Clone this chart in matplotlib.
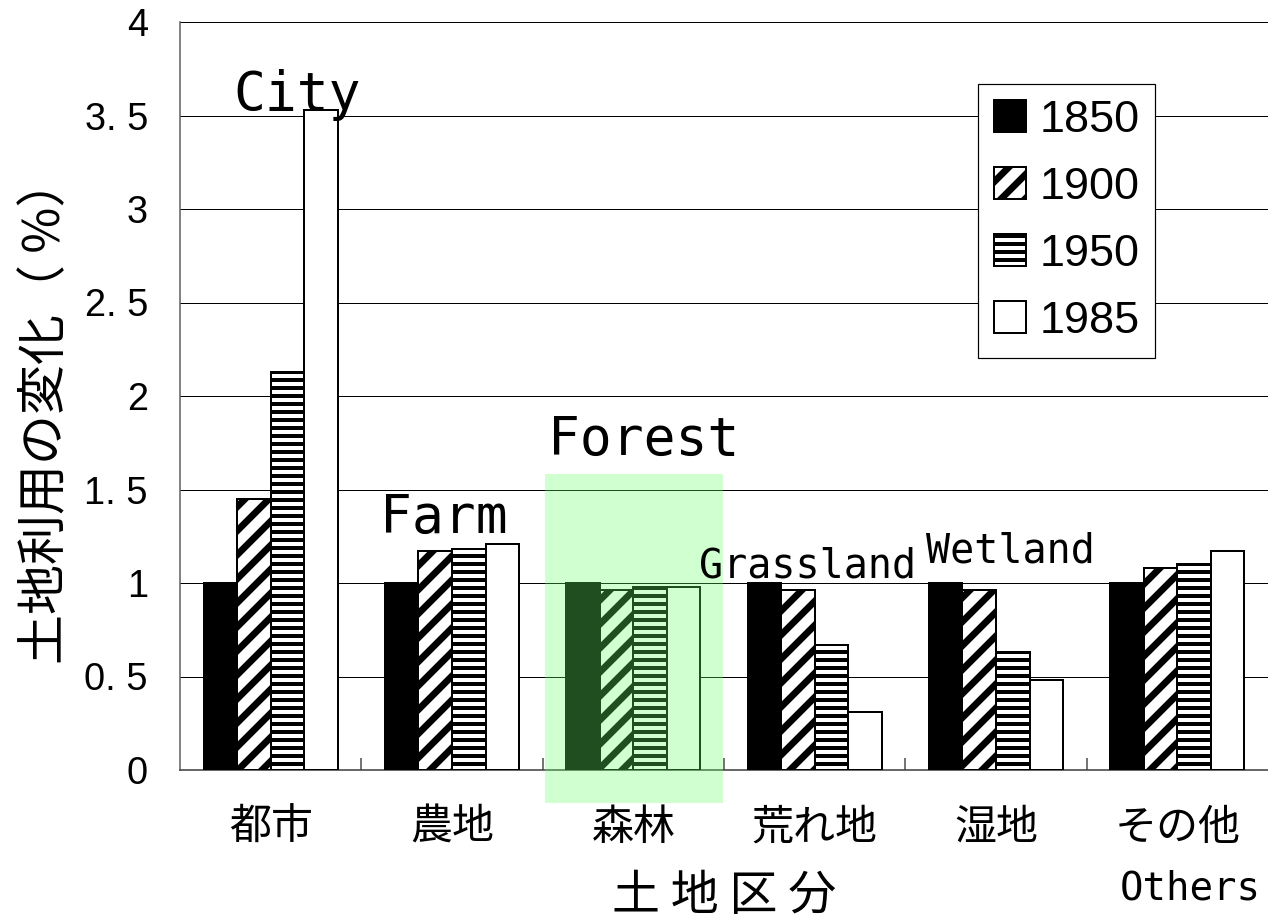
import matplotlib.pyplot as plt
import matplotlib.patches as mpatches
import numpy as np

plt.rcParams['font.family'] = ['Liberation Sans', 'Noto Sans CJK JP', 'DejaVu Sans']
plt.rcParams['hatch.linewidth'] = 2.2

# data
categories = ['都市', '農地', '森林', '荒れ地', '湿地', 'その他']
en_names = ['City', 'Farm', 'Forest', 'Grassland', 'Wetland', 'Others']
years = ['1850', '1900', '1950', '1985']
v1850 = [1.0, 1.0, 1.0, 1.0, 1.0, 1.0]
v1900 = [1.45, 1.17, 0.96, 0.96, 0.96, 1.08]
v1950 = [2.13, 1.18, 0.98, 0.67, 0.63, 1.10]
v1985 = [3.53, 1.21, 0.98, 0.31, 0.48, 1.17]
yticks = [0, 0.5, 1, 1.5, 2, 2.5, 3, 3.5, 4]
ytick_labels = ['0', '0. 5', '1', '1. 5', '2', '2. 5', '3', '3. 5', '4']

W, H, DPI = 1268, 920, 144
fig = plt.figure(figsize=(W / DPI, H / DPI), dpi=DPI)
ax = fig.add_axes([180 / W, 150 / H, 1088 / W, 748 / H])

x = np.arange(len(categories))
w = 0.185
styles = [('black', '', 2.2), ('white', '//', 3.4), ('white', '---', 2.0), ('white', '', 2.2)]
for i, (vals, (fc, hatch, hlw)) in enumerate(zip([v1850, v1900, v1950, v1985], styles)):
    bars = ax.bar(x + (i - 1.5) * w, vals, w, color=fc, edgecolor='black', hatch=hatch,
                  linewidth=1, label=years[i], zorder=3)
    for p in bars:
        if hasattr(p, 'set_hatch_linewidth'):
            p.set_hatch_linewidth(hlw)

ax.set_xlim(-0.5, 5.5)
ax.set_ylim(0, 4)
ax.set_yticks(yticks, ytick_labels)
ax.tick_params(axis='y', length=0, pad=16, labelsize=19)
ax.set_xticks(x, categories)
ax.tick_params(axis='x', which='major', length=0, pad=18, labelsize=21)
for lbl in ax.get_xticklabels():
    lbl.set_fontfamily(['Noto Sans CJK JP', 'DejaVu Sans'])
ax.set_xticks(np.arange(0.5, 5.5, 1), minor=True)
ax.tick_params(axis='x', which='minor', direction='in', length=6, width=0.8, color='#555555')

ax.yaxis.grid(True, color='black', lw=0.5)
ax.set_axisbelow(True)
for s in ['top', 'right']:
    ax.spines[s].set_visible(False)
ax.spines['left'].set_color('#666666')
ax.spines['left'].set_linewidth(0.8)
ax.spines['bottom'].set_color('#444444')
ax.spines['bottom'].set_linewidth(0.8)

# green highlight over the forest group
rect = mpatches.Rectangle((1.513, -0.176), 0.982, 1.76, fc=(0.41, 1.0, 0.41), alpha=0.31,
                          ec='none', zorder=4, clip_on=False)
ax.add_patch(rect)

# english names
name_pos = [(-0.208, 3.53, 26.5), (0.603, 1.267, 26.5), (1.53, 1.684, 26.5),
            (2.363, 1.027, 20), (3.615, 1.107, 20), (4.685, -0.695, 19.5)]
for name, (tx, ty, fs) in zip(en_names, name_pos):
    ax.text(tx, ty, name, family='DejaVu Sans Mono', fontsize=fs, ha='left',
            va='baseline', clip_on=False, zorder=6)

fig.text(724 / W, 1 - 872 / H, '土 地 区 分', ha='center', va='top', fontsize=24,
         family=['Noto Sans CJK JP', 'DejaVu Sans'])
fig.text(46 / W, 1 - 410 / H, '土地利用の変化（ %）', ha='center', va='center', rotation=90,
         fontsize=25, family=['Noto Sans CJK JP', 'DejaVu Sans'])

leg = ax.legend(loc='upper left', bbox_to_anchor=(978 / W, 1 - 84 / H), bbox_transform=fig.transFigure,
                prop={'family': 'Liberation Sans', 'size': 22.5}, handlelength=0.71, handleheight=0.71,
                labelspacing=0.58, handletextpad=0.3, borderpad=0.35, borderaxespad=0,
                fancybox=False, edgecolor='black', framealpha=1)
leg.get_frame().set_linewidth(0.6)
for h, (fc, hatch, hlw) in zip(leg.legend_handles, styles):
    if hasattr(h, 'set_hatch_linewidth'):
        h.set_hatch_linewidth(hlw)

fig.savefig('out.png', dpi=DPI)
